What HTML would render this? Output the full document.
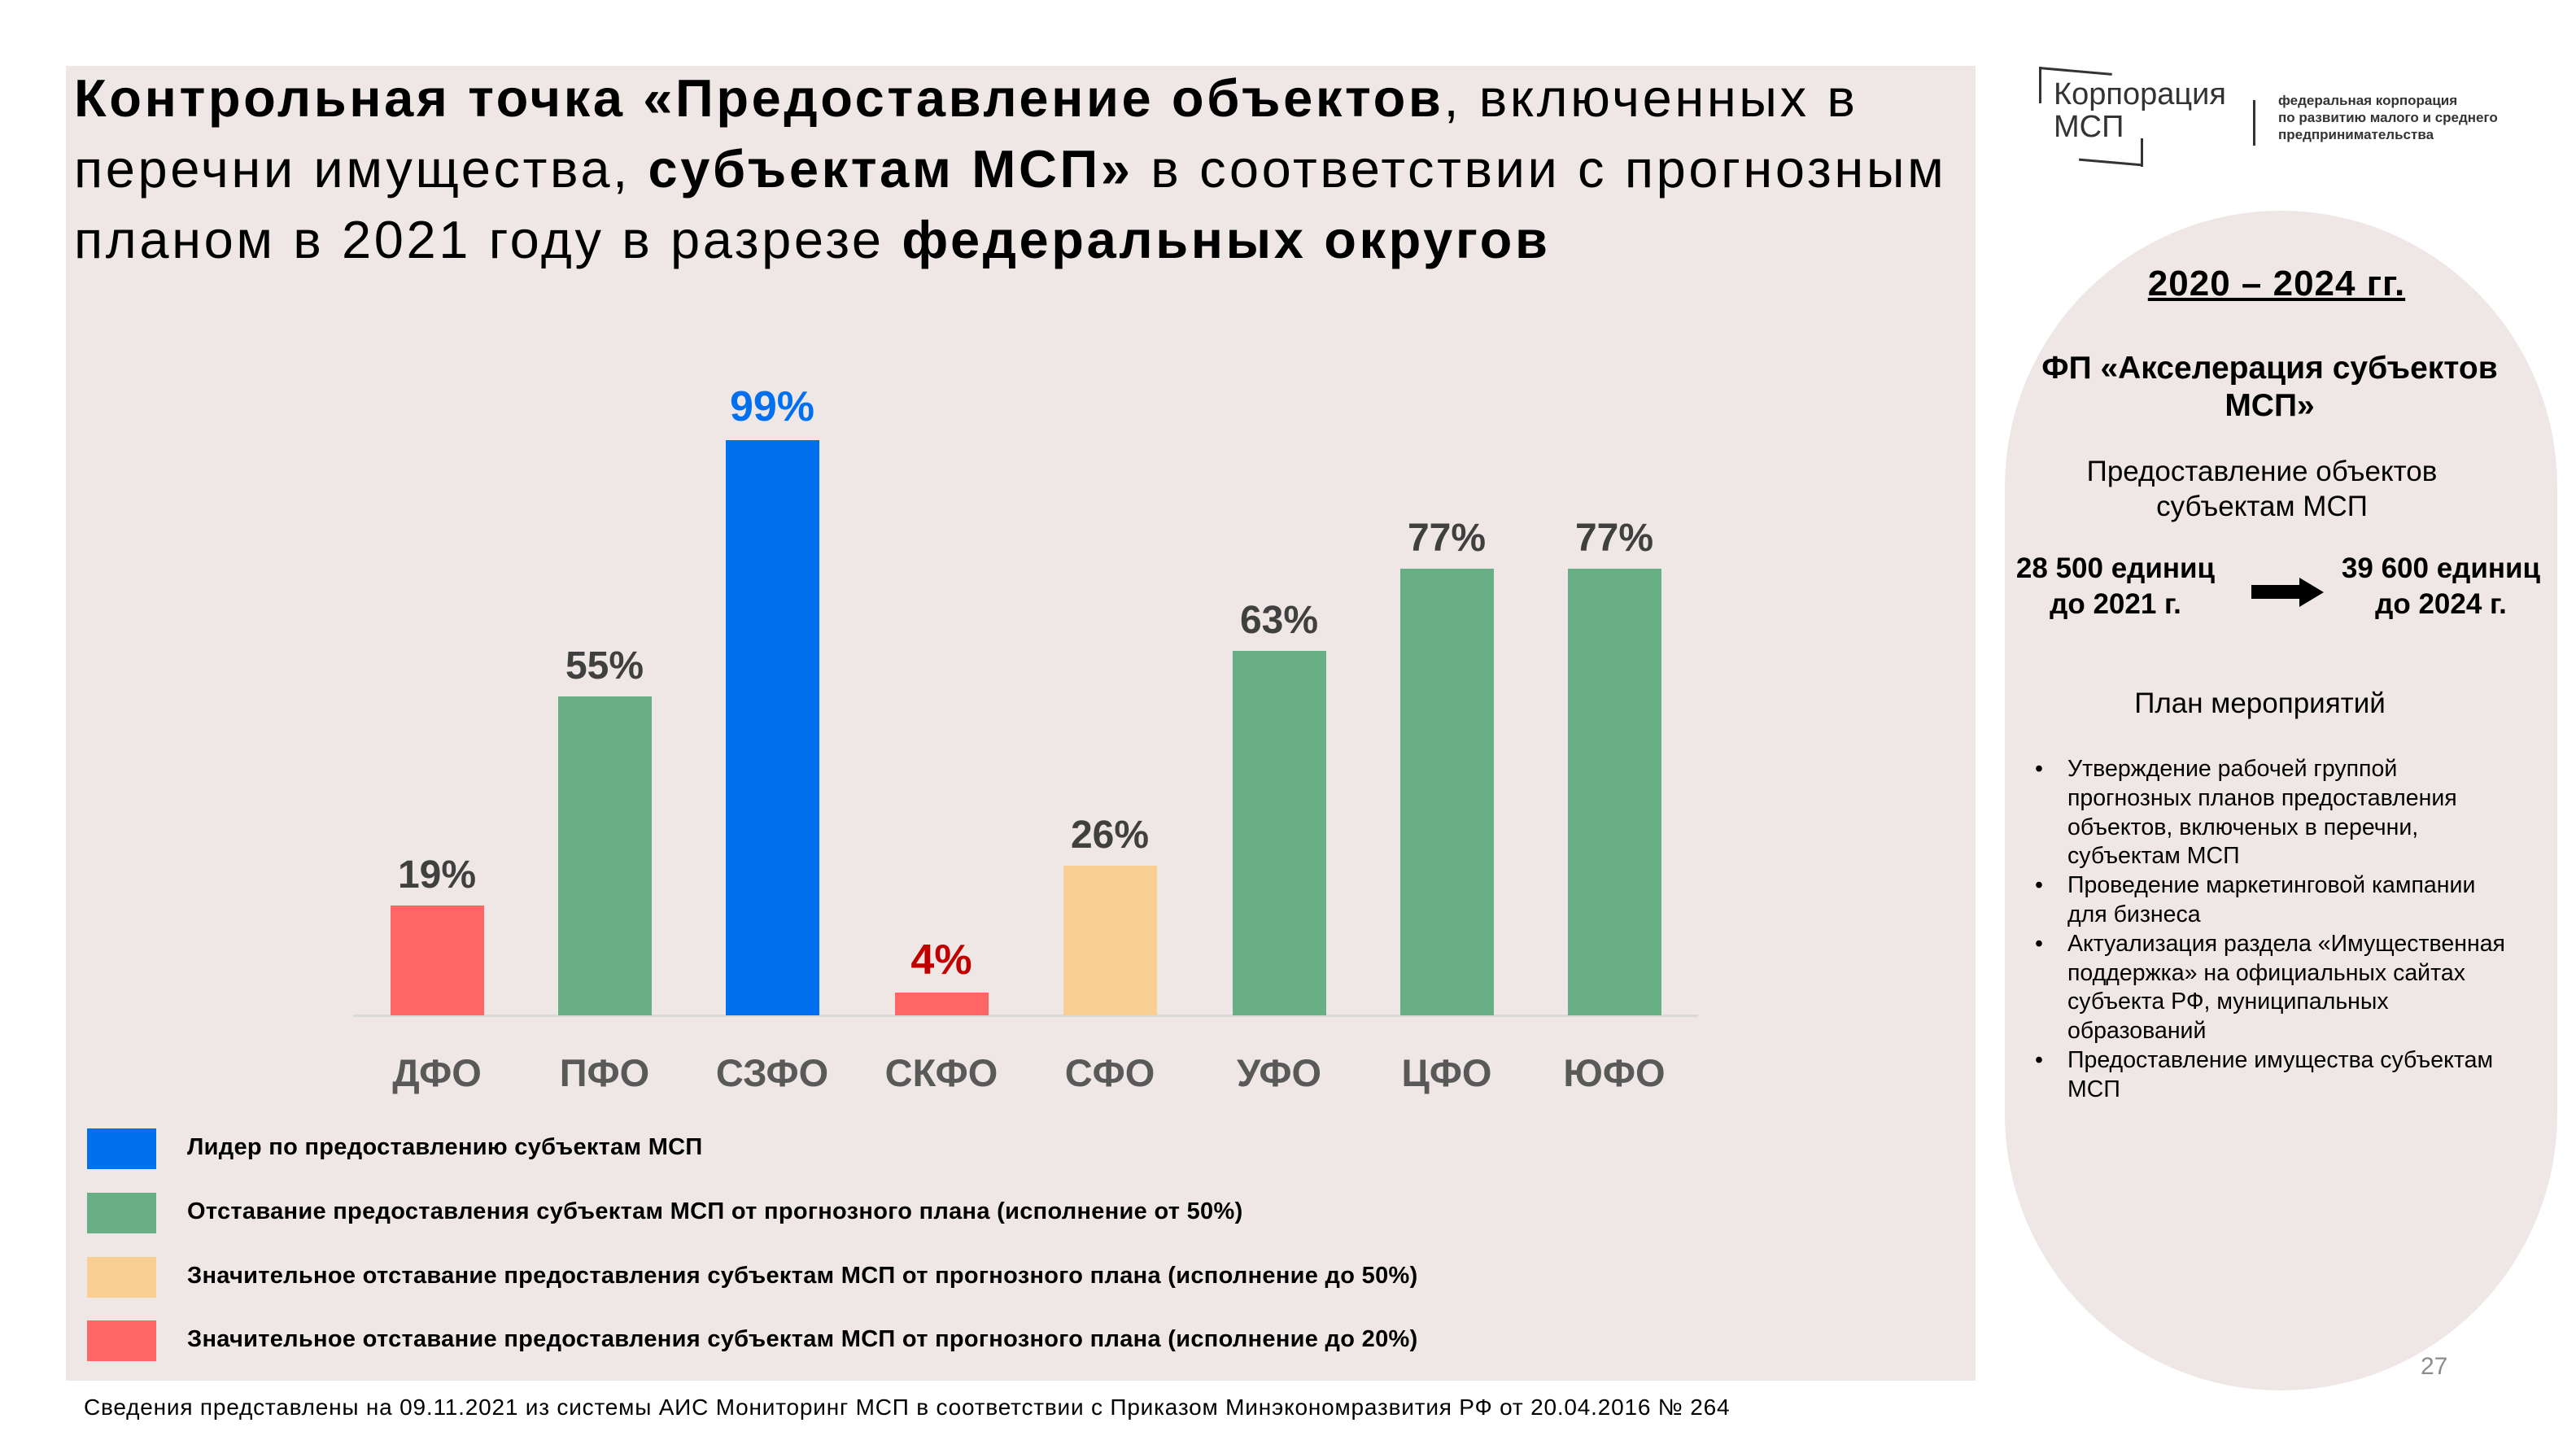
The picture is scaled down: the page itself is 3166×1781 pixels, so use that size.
<!DOCTYPE html>
<html><head><meta charset="utf-8"><style>
*{margin:0;padding:0;box-sizing:border-box}
body{width:3166px;height:1781px;background:#fff;position:relative;overflow:hidden;font-family:"Liberation Sans","DejaVu Sans",sans-serif;color:#000}
.a{position:absolute}
#panel{left:81px;top:81px;width:2347px;height:1616px;background:#efe7e5}
#arch{left:2464px;top:259px;width:679px;height:1450px;background:#efe7e5;border-radius:340px}
.t{left:91px;font-size:65px;line-height:87px;white-space:nowrap;letter-spacing:3.6px}
.bar{position:absolute;width:115px}
.v{position:absolute;width:240px;text-align:center;font-weight:bold;font-size:48px;color:#404040}
.c{position:absolute;width:240px;text-align:center;font-weight:bold;font-size:47px;color:#595959;top:1291px}
.sq{position:absolute;left:107px;width:85px;height:50px}
.lt{position:absolute;left:230px;font-weight:bold;font-size:29px;white-space:nowrap;letter-spacing:0.3px}
.ctr{position:absolute;text-align:center;white-space:nowrap}
.bl{position:absolute;left:2501px;font-size:28.5px;line-height:35.8px;width:590px}
.bl li{list-style:none;position:relative;padding-left:40px}
.bl li:before{content:"•";position:absolute;left:0}
</style></head><body>
<div class="a" id="panel"></div>
<div class="a" id="arch"></div>
<div class="a t" style="top:77px"><b>Контрольная точка «Предоставление объектов</b>, включенных в</div>
<div class="a t" style="top:164px">перечни имущества, <b>субъектам МСП»</b> в соответствии с прогнозным</div>
<div class="a t" style="top:251px">планом в 2021 году в разрезе <b>федеральных округов</b></div>

<div class="a" style="left:434px;top:1247px;width:1653px;height:3px;background:#d9d9d9"></div>

<div class="bar" style="left:480px;top:1113px;height:135px;background:#ff6565"></div>
<div class="bar" style="left:686px;top:856px;height:392px;background:#68af85"></div>
<div class="bar" style="left:892px;top:541px;height:707px;background:#006ff0"></div>
<div class="bar" style="left:1100px;top:1220px;height:28px;background:#ff6565"></div>
<div class="bar" style="left:1307px;top:1064px;height:184px;background:#f9ce93"></div>
<div class="bar" style="left:1515px;top:800px;height:448px;background:#68af85"></div>
<div class="bar" style="left:1721px;top:699px;height:549px;background:#68af85"></div>
<div class="bar" style="left:1927px;top:699px;height:549px;background:#68af85"></div>

<div class="v" style="left:417px;top:1048px">19%</div>
<div class="v" style="left:623px;top:791px">55%</div>
<div class="v" style="left:829px;top:470px;color:#0070f0;font-size:52px">99%</div>
<div class="v" style="left:1037px;top:1150px;color:#c00000;font-size:52px">4%</div>
<div class="v" style="left:1244px;top:999px">26%</div>
<div class="v" style="left:1452px;top:735px">63%</div>
<div class="v" style="left:1658px;top:634px">77%</div>
<div class="v" style="left:1864px;top:634px">77%</div>

<div class="c" style="left:417px">ДФО</div>
<div class="c" style="left:623px">ПФО</div>
<div class="c" style="left:829px">СЗФО</div>
<div class="c" style="left:1037px">СКФО</div>
<div class="c" style="left:1244px">СФО</div>
<div class="c" style="left:1452px">УФО</div>
<div class="c" style="left:1658px">ЦФО</div>
<div class="c" style="left:1864px">ЮФО</div>

<div class="sq" style="top:1387px;background:#006ff0"></div>
<div class="sq" style="top:1466px;background:#68af85"></div>
<div class="sq" style="top:1545px;background:#f9ce93"></div>
<div class="sq" style="top:1623px;background:#ff6565"></div>
<div class="lt" style="top:1394px">Лидер по предоставлению субъектам МСП</div>
<div class="lt" style="top:1473px">Отставание предоставления субъектам МСП от прогнозного плана (исполнение от 50%)</div>
<div class="lt" style="top:1552px">Значительное отставание предоставления субъектам МСП от прогнозного плана (исполнение до 50%)</div>
<div class="lt" style="top:1630px">Значительное отставание предоставления субъектам МСП от прогнозного плана (исполнение до 20%)</div>

<div class="a" style="left:103px;top:1714px;font-size:28px;white-space:nowrap;letter-spacing:0.8px">Сведения представлены на 09.11.2021 из системы АИС Мониторинг МСП в соответствии с Приказом Минэкономразвития РФ от 20.04.2016 № 264</div>
<div class="a" style="left:2975px;top:1663px;font-size:30px;color:#8c8c8c">27</div>

<!-- logo -->
<div class="a" style="left:2506px;top:82px;width:90px;height:3px;background:#333;transform:rotate(5deg);transform-origin:left"></div>
<div class="a" style="left:2506px;top:82px;width:3px;height:45px;background:#333"></div>
<div class="a" style="left:2524px;top:96px;font-size:38px;line-height:40px;color:#333">Корпорация<br>МСП</div>
<div class="a" style="left:2555px;top:198px;width:78px;height:3px;background:#333;transform:rotate(5deg)"></div>
<div class="a" style="left:2631px;top:170px;width:3px;height:35px;background:#333"></div>
<div class="a" style="left:2769px;top:123px;width:3px;height:56px;background:#333"></div>
<div class="a" style="left:2800px;top:113px;font-size:17px;line-height:21px;color:#333;font-weight:bold">федеральная корпорация<br>по развитию малого и среднего<br>предпринимательства</div>

<div class="ctr" style="left:2598px;width:400px;top:324px;font-size:44px;font-weight:bold;text-decoration:underline;letter-spacing:1px">2020 – 2024 гг.</div>
<div class="ctr" style="left:2450px;width:679px;top:430px;font-size:39px;line-height:46px;font-weight:bold">ФП «Акселерация субъектов<br>МСП»</div>
<div class="ctr" style="left:2450px;width:660px;top:558px;font-size:35px;line-height:43px">Предоставление объектов<br>субъектам МСП</div>
<div class="ctr" style="left:2440px;width:320px;top:677px;font-size:35px;line-height:44px;font-weight:bold">28 500 единиц<br>до 2021 г.</div>
<div class="ctr" style="left:2840px;width:320px;top:677px;font-size:35px;line-height:44px;font-weight:bold">39 600 единиц<br>до 2024 г.</div>
<div class="a" style="left:2767px;top:719px;width:60px;height:17px;background:#000"></div>
<div class="a" style="left:2826px;top:710px;width:0;height:0;border-top:18px solid transparent;border-bottom:18px solid transparent;border-left:30px solid #000"></div>
<div class="ctr" style="left:2450px;width:655px;top:845px;font-size:35px">План мероприятий</div>
<ul class="bl" style="top:928px">
<li>Утверждение рабочей группой прогнозных планов предоставления объектов, включеных в перечни, субъектам МСП</li>
<li>Проведение маркетинговой кампании для бизнеса</li>
<li>Актуализация раздела «Имущественная поддержка» на официальных сайтах субъекта РФ, муниципальных образований</li>
<li>Предоставление имущества субъектам МСП</li>
</ul>
</body></html>
